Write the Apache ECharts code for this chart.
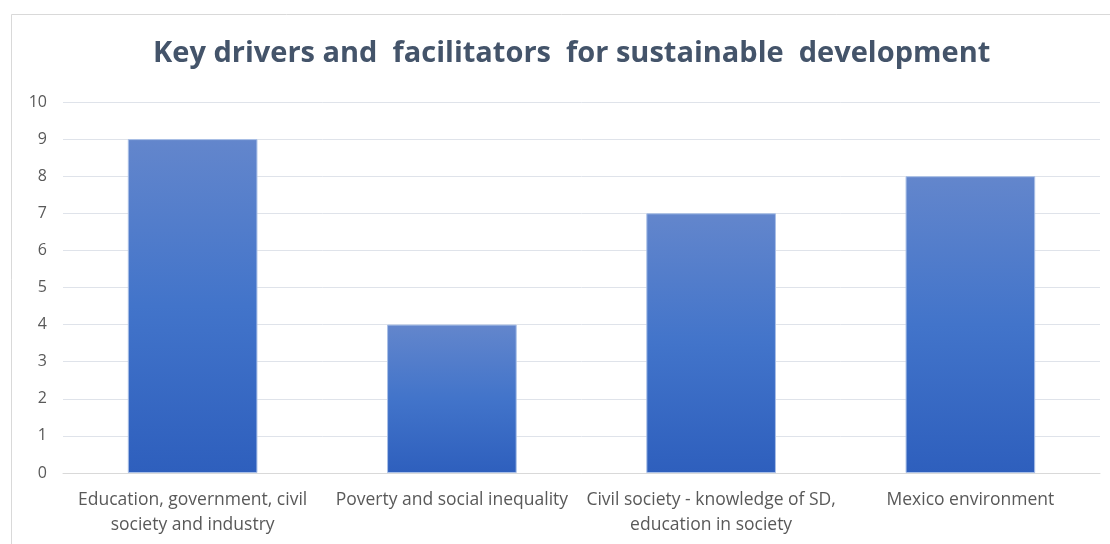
<!DOCTYPE html>
<html>
<head>
<meta charset="utf-8">
<script src="https://cdn.jsdelivr.net/npm/echarts@6/dist/echarts.min.js"></script>
<style>
  html, body { margin: 0; padding: 0; background: #ffffff; }
  #chart { width: 1110px; height: 544px; }
</style>
</head>
<body>
<div id="chart"></div>
<script>
// Chart title and categories
const chartTitle = 'Key drivers and  facilitators  for sustainable  development';
const categories = [
  'Education, government, civil\nsociety and industry',
  'Poverty and social inequality',
  'Civil society - knowledge of SD,\neducation in society',
  'Mexico environment'
];
// Score for each driver
const scores = [9, 4, 7, 8];
// Value axis range
const yMin = 0;
const yMax = 10;
const yStep = 1;

const chart = echarts.init(document.getElementById('chart'), null, { renderer: 'canvas' });

chart.setOption({
  backgroundColor: '#ffffff',
  animation: false,
  title: {
    text: chartTitle,
    left: 148,
    top: 34,
    textStyle: {
      fontFamily: 'Open Sans',
      fontWeight: 'bold',
      fontSize: 29,
      color: '#44546a'
    }
  },
  graphic: [{
    type: 'rect',
    shape: { x: 11.5, y: 14.5, width: 1120, height: 560 },
    style: { fill: 'none', stroke: '#d9d9d9', lineWidth: 1 },
    silent: true
  }],
  grid: { left: 63, right: 10, top: 102, bottom: 71, containLabel: false },
  xAxis: {
    type: 'category',
    data: categories,
    axisLine: { show: true, lineStyle: { color: '#d9d9d9', width: 1 } },
    axisTick: { show: false },
    axisLabel: {
      interval: 0,
      margin: 15,
      color: '#595959',
      fontFamily: 'Open Sans',
      fontSize: 17.5,
      lineHeight: 25
    }
  },
  yAxis: {
    type: 'value',
    min: yMin,
    max: yMax,
    interval: yStep,
    axisLine: { show: false },
    axisTick: { show: false },
    splitLine: { lineStyle: { color: '#dfe3ea', width: 1 } },
    axisLabel: {
      margin: 16,
      color: '#595959',
      fontFamily: 'Open Sans',
      fontSize: 16
    }
  },
  series: [{
    type: 'bar',
    data: scores,
    barWidth: '50%',
    itemStyle: {
      borderColor: '#a9bfe6',
      borderWidth: 1,
      color: new echarts.graphic.LinearGradient(0, 0, 0, 1, [
        { offset: 0, color: '#6386cc' },
        { offset: 0.5, color: '#4274ca' },
        { offset: 1, color: '#2e5fbd' }
      ])
    }
  }]
});
</script>
</body>
</html>
